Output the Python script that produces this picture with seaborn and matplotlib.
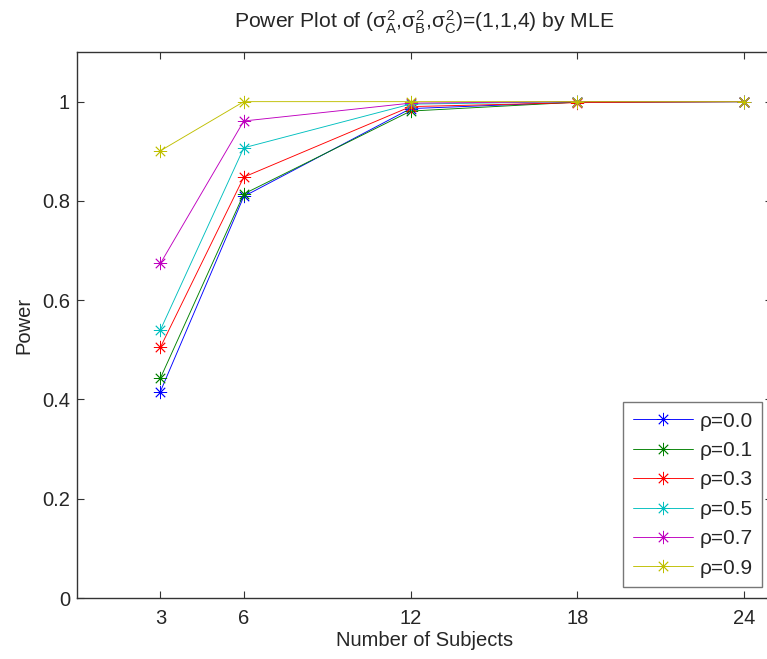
import matplotlib
matplotlib.use('Agg')
import matplotlib.pyplot as plt
import seaborn as sns
import pandas as pd

# datos
subjects = [3, 6, 12, 18, 24]
rho_labels = ['ρ=0.0', 'ρ=0.1', 'ρ=0.3', 'ρ=0.5', 'ρ=0.7', 'ρ=0.9']
power_00 = [0.416, 0.809, 0.986, 0.999, 1.0]
power_01 = [0.443, 0.814, 0.981, 0.999, 1.0]
power_03 = [0.505, 0.848, 0.990, 0.998, 1.0]
power_05 = [0.540, 0.907, 0.995, 1.0, 1.0]
power_07 = [0.674, 0.961, 0.997, 1.0, 1.0]
power_09 = [0.901, 1.0, 1.0, 1.0, 1.0]
powers = [power_00, power_01, power_03, power_05, power_07, power_09]

# colores tipo MATLAB
colors = [(0, 0, 1), (0, 0.5, 0), (1, 0, 0), (0, 0.75, 0.75), (0.75, 0, 0.75), (0.75, 0.75, 0)]

sns.set_style('ticks', {'xtick.direction': 'in', 'ytick.direction': 'in'})
plt.rcParams['font.family'] = ['Liberation Sans', 'DejaVu Sans']
plt.rcParams['mathtext.fontset'] = 'custom'
plt.rcParams['mathtext.rm'] = 'Liberation Sans'
plt.rcParams['mathtext.it'] = 'Liberation Sans'

fig = plt.figure(figsize=(7.67, 6.59), dpi=100)
ax = fig.add_axes([77 / 767, 61 / 659, 695 / 767, 546 / 659])

for label, vals, col in zip(rho_labels, powers, colors):
    df = pd.DataFrame({'n': subjects, 'power': vals})
    sns.lineplot(data=df, x='n', y='power', ax=ax, color=col, label=label,
                 marker=(8, 2, 0), markersize=9.5, mec=col, mew=0.6, lw=0.65)

ax.set_xlim(0, 25)
ax.set_ylim(0, 1.1)
ax.set_xticks(subjects)
ax.set_yticks([0, 0.2, 0.4, 0.6, 0.8, 1])
ax.set_yticklabels(['0', '0.2', '0.4', '0.6', '0.8', '1'])
ax.tick_params(top=True, right=True, length=5, width=0.8, color='#333333',
               labelsize=14.5)
ax.tick_params(axis='x', pad=8)
ax.tick_params(axis='y', pad=5)
for sp in ax.spines.values():
    sp.set_color('#333333')
    sp.set_linewidth(1)

ax.set_xlabel('Number of Subjects', fontsize=14.5, labelpad=2)
ax.set_ylabel('Power', fontsize=14.5, labelpad=6)
ax.set_title(r'Power Plot of ($\sigma^2_\mathrm{A}$,$\sigma^2_\mathrm{B}$,$\sigma^2_\mathrm{C}$)=(1,1,4) by MLE',
             fontsize=15.2, pad=17)

leg = ax.legend(loc='lower right', bbox_to_anchor=(0.9856, 0.02), borderaxespad=0,
                fontsize=15, handlelength=2.9, handletextpad=0.3, labelspacing=0.5,
                fancybox=False, framealpha=1, edgecolor='#777777', borderpad=0.45)
leg.get_frame().set_linewidth(1)

fig.savefig('out.png', dpi=100)
